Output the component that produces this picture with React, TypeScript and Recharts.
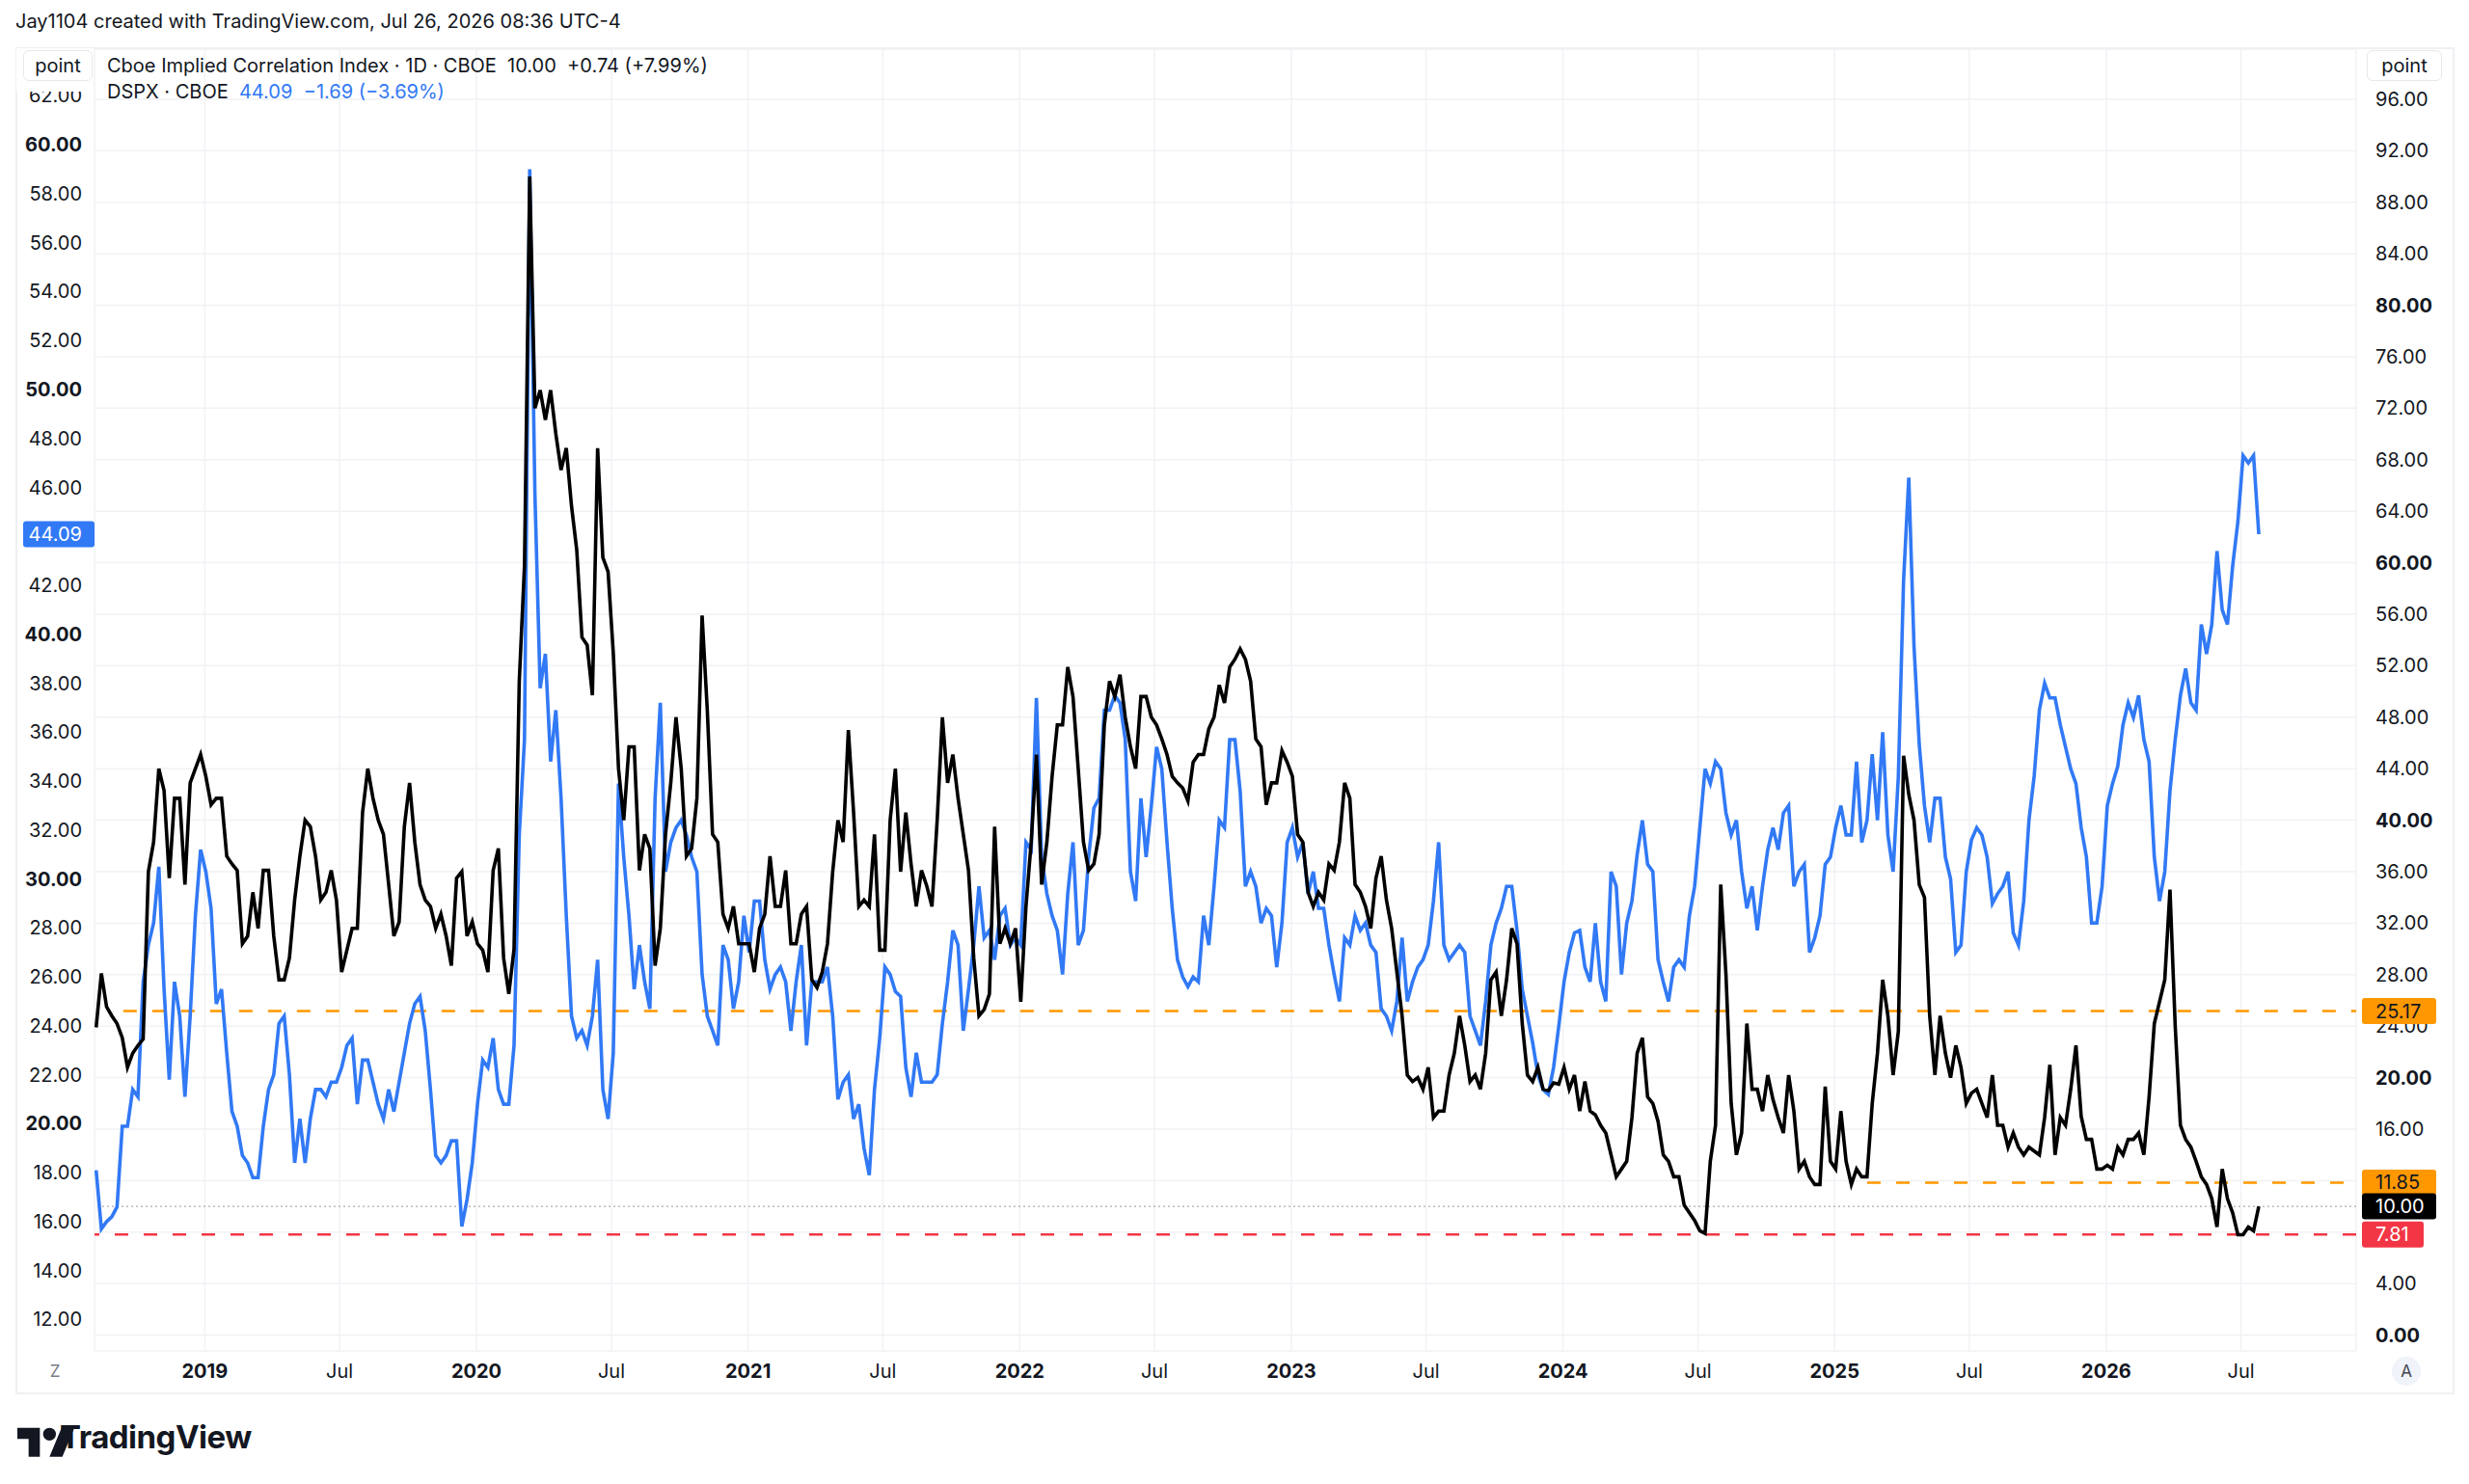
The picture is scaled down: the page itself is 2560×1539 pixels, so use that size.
import React from 'react';
import { LineChart, Line, XAxis, YAxis, CartesianGrid, ReferenceLine } from 'recharts';

// weekly samples, first one ~ Aug 2018
const START = 2018.6;
const STEP = 1 / 52;

// Cboe Implied Correlation Index (right scale)
const cor = [
  23.9, 28.1, 25.5, 24.8, 24.2, 23.1, 20.8, 21.9, 22.5, 23,
  36, 38.3, 44, 42.3, 35.5, 41.7, 41.7, 35, 42.9, 44,
  45.1, 43.4, 41.2, 41.7, 41.7, 37.2, 36.6, 36.1, 30.4, 31,
  34.4, 31.6, 36.1, 36.1, 31, 27.6, 27.6, 29.3, 33.8, 37.2,
  40, 39.5, 37.2, 33.8, 34.4, 36.1, 33.8, 28.2, 29.9, 31.6,
  31.6, 40.6, 44, 41.7, 40, 38.9, 35, 31, 32.1, 39.5,
  42.9, 38.3, 35, 33.8, 33.3, 31.6, 32.7, 31, 28.7, 35.5,
  36, 31, 32.1, 30.4, 29.9, 28.2, 36.1, 37.8, 29.3, 26.5,
  30, 50.8, 59.8, 90, 72, 73.4, 71.1, 73.4, 70, 67.2,
  68.9, 64.4, 61, 54.2, 53.6, 49.7, 68.9, 60.4, 59.3, 53,
  44, 40, 45.7, 45.7, 36.1, 38.9, 37.8, 28.7, 31.6, 38.9,
  42.9, 48, 44, 37.2, 37.8, 41.7, 55.9, 48.5, 38.9, 38.3,
  32.7, 31.6, 33.3, 30.4, 30.4, 30.4, 28.2, 31.6, 32.7, 37.2,
  33.3, 33.3, 36.1, 30.4, 30.4, 32.7, 33.3, 27.6, 27, 28.2,
  30.4, 36, 40, 38.3, 47, 40.6, 33.3, 33.8, 33.3, 38.9,
  29.9, 29.9, 40, 44, 36, 40.6, 36.6, 33.3, 36.1, 34.9,
  33.3, 40, 48, 42.9, 45.1, 41.7, 38.9, 36.1, 29.3, 24.8,
  25.3, 26.5, 39.5, 30.4, 31.6, 30.4, 31.6, 25.9, 33.3, 38.3,
  45.1, 35, 38.3, 43.4, 47.4, 47.4, 51.9, 49.6, 44, 38.3,
  36.1, 36.6, 38.9, 47.4, 50.8, 49.6, 51.3, 48, 45.7, 44,
  49.6, 49.6, 48, 47.4, 46.3, 45.1, 43.4, 42.9, 42.5, 41.5,
  44.5, 45.1, 45.1, 47.1, 48, 50.5, 49.1, 51.9, 52.5, 53.3,
  52.5, 50.8, 46.3, 45.7, 41.2, 42.9, 42.9, 45.4, 44.5, 43.4,
  38.9, 38.3, 34.4, 33.3, 34.4, 33.8, 36.6, 36.1, 38.3, 42.9,
  41.7, 35, 34.4, 33.3, 31.6, 35.5, 37.2, 33.8, 31.6, 28.2,
  24.8, 20.2, 19.7, 20, 19.1, 20.8, 16.9, 17.4, 17.4, 20.2,
  21.9, 24.8, 22.5, 19.7, 20.2, 19.1, 21.9, 27.6, 28.2, 24.8,
  27.6, 31.6, 30.4, 24.2, 20.2, 19.7, 20.8, 19.1, 19, 19.6,
  19.5, 20.8, 19.1, 20.2, 17.4, 19.7, 17.4, 17.1, 16.3, 15.7,
  14, 12.3, 12.9, 13.5, 16.9, 21.9, 23.1, 18.5, 18, 16.6,
  14, 13.5, 12.3, 12.3, 10.1, 9.5, 8.9, 8.1, 7.9, 13.5,
  16.3, 35, 28, 18, 14, 15.7, 24.2, 19.1, 19.1, 17.4,
  20.2, 18.3, 16.9, 15.7, 20.2, 17.4, 12.9, 13.5, 12.3, 11.7,
  11.7, 19.3, 13.5, 12.9, 17.4, 13.5, 11.7, 12.9, 12.3, 12.3,
  18, 21.9, 27.6, 24.8, 20.2, 23.6, 45, 42, 40, 35,
  34, 24.8, 20.2, 24.8, 21.9, 20, 22.5, 20.8, 18, 18.8,
  19.1, 18, 16.9, 20.2, 16.3, 16.3, 14.6, 15.7, 14.6, 14,
  14.6, 14.3, 14, 16.9, 21, 14, 16.9, 16.3, 19.1, 22.5,
  17, 15.2, 15.2, 12.9, 12.9, 13.2, 12.9, 14.6, 14, 15.2,
  15.2, 15.7, 14, 18.5, 24.2, 25.9, 27.6, 34.6, 24, 16.3,
  15.2, 14.6, 13.5, 12.3, 11.7, 10.6, 8.4, 12.9, 10.6, 9.5,
  7.8, 7.8, 8.4, 8.1, 10,
];

// DSPX (left scale)
const dspx = [
  18.1, 15.7, 16, 16.2, 16.6, 19.9, 19.9, 21.4, 21.1, 25.8,
  27.3, 28.2, 30.5, 25.5, 21.8, 25.8, 24.4, 21.1, 24.4, 28.5,
  31.2, 30.3, 28.8, 24.9, 25.5, 22.9, 20.5, 19.9, 18.7, 18.4,
  17.8, 17.8, 19.9, 21.4, 22, 24.1, 24.4, 22, 18.4, 20.2,
  18.4, 20.2, 21.4, 21.4, 21.1, 21.7, 21.7, 22.3, 23.2, 23.5,
  20.8, 22.6, 22.6, 21.7, 20.8, 20.2, 21.4, 20.5, 21.7, 22.9,
  24.1, 24.9, 25.2, 23.8, 21.4, 18.7, 18.4, 18.7, 19.3, 19.3,
  15.8, 16.9, 18.4, 20.8, 22.6, 22.3, 23.5, 21.4, 20.8, 20.8,
  23.2, 31.8, 35.7, 59, 45.7, 37.8, 39.2, 34.8, 36.9, 33.3,
  28.5, 24.4, 23.5, 23.8, 23.2, 24.4, 26.7, 21.4, 20.2, 22.9,
  33.9, 30.9, 28.5, 25.5, 27.3, 25.8, 24.7, 33.3, 37.2, 30.3,
  31.5, 32.1, 32.4, 31.8, 30.9, 30.3, 26.1, 24.4, 23.8, 23.2,
  27.3, 26.7, 24.7, 25.8, 28.5, 27, 29.1, 29.1, 26.7, 25.5,
  26.1, 26.4, 25.8, 23.8, 25.8, 27.3, 23.2, 25.8, 25.8, 25.8,
  26.4, 24.4, 21, 21.7, 22, 20.2, 20.8, 19, 17.9, 21.4,
  23.5, 26.4, 26.1, 25.4, 25.2, 22.3, 21.1, 22.9, 21.7, 21.7,
  21.7, 22, 24.1, 25.8, 27.9, 27.3, 23.8, 25.5, 27.3, 29.7,
  27.6, 27.9, 26.7, 28.5, 28.8, 27.3, 27.6, 27.3, 31.5, 31.2,
  37.4, 30.9, 29.4, 28.5, 27.9, 26.1, 29.4, 31.5, 27.3, 27.9,
  30.9, 32.9, 33.3, 36.9, 36.9, 37.5, 37.2, 35.7, 30.3, 29.1,
  33.3, 30.9, 33, 35.4, 34.5, 31.5, 28.8, 26.7, 26, 25.6,
  26, 25.8, 28.5, 27.3, 29.7, 32.4, 32.1, 35.7, 35.7, 33.6,
  29.7, 30.3, 29.7, 28.2, 28.8, 28.5, 26.4, 28.2, 31.5, 32.1,
  30.9, 31.5, 29.4, 30.3, 28.8, 28.8, 27.3, 26.1, 25, 27.6,
  27.3, 28.5, 27.9, 28.2, 27.3, 27, 24.7, 24.4, 23.8, 25,
  27.6, 25, 25.8, 26.4, 26.7, 27.3, 29.1, 31.5, 27.3, 26.7,
  27, 27.3, 27, 24.4, 23.8, 23.2, 25, 27.3, 28.2, 28.8,
  29.7, 29.7, 27.9, 25.5, 24.4, 23.3, 22, 21.4, 21.2, 22.3,
  24, 25.8, 27, 27.8, 27.9, 26.4, 25.8, 28.2, 25.8, 25,
  30.3, 29.7, 26.1, 28.2, 29.1, 31, 32.4, 30.6, 30.3, 26.7,
  25.8, 25, 26.4, 26.7, 26.4, 28.5, 29.7, 32.1, 34.5, 33.9,
  34.8, 34.5, 32.7, 31.8, 32.4, 30.3, 28.8, 29.7, 27.9, 29.7,
  31.2, 32.1, 31.2, 32.7, 33, 29.7, 30.3, 30.6, 27, 27.6,
  28.5, 30.6, 30.9, 32.1, 33, 31.8, 31.8, 34.8, 31.5, 32.4,
  35.1, 32.4, 36, 31.8, 30.3, 34.2, 42.2, 46.4, 39.5, 35.5,
  33, 31.5, 33.3, 33.3, 30.9, 30, 27, 27.3, 30.3, 31.6,
  32.1, 31.8, 30.9, 29, 29.4, 29.7, 30.3, 27.8, 27.3, 29.1,
  32.4, 34.2, 36.9, 38, 37.4, 37.4, 36.3, 35.4, 34.5, 33.9,
  32.1, 30.9, 28.2, 28.2, 29.7, 33, 33.9, 34.6, 36.3, 37.2,
  36.6, 37.5, 35.7, 34.8, 30.9, 29.1, 30.3, 33.6, 35.7, 37.5,
  38.6, 37.2, 36.9, 40.4, 39.2, 40.4, 43.4, 41, 40.4, 42.8,
  44.6, 47.3, 47, 47.3, 44.09,
];

const xTickValues = [
  2019, 2019.496, 2020, 2020.497, 2021, 2021.496, 2022, 2022.496,
  2023, 2023.496, 2024, 2024.497, 2025, 2025.496, 2026, 2026.496,
];
const xTickLabels = [
  '2019', 'Jul', '2020', 'Jul', '2021', 'Jul', '2022', 'Jul',
  '2023', 'Jul', '2024', 'Jul', '2025', 'Jul', '2026', 'Jul',
];
const leftTicks = [12, 14, 16, 18, 20, 22, 24, 26, 28, 30, 32, 34, 36, 38, 40, 42, 44, 46, 48, 50, 52, 54, 56, 58, 60, 62];
const leftBold = [20, 30, 40, 50, 60];
const rightTicks = [0, 4, 8, 12, 16, 20, 24, 28, 32, 36, 40, 44, 48, 52, 56, 60, 64, 68, 72, 76, 80, 84, 88, 92, 96];
const rightBold = [0, 20, 40, 60, 80];

const data = cor.map((c, i) => ({ t: START + i * STEP, cor: c, dspx: dspx[i] }));

const FONT = 'Inter, "Noto Sans", sans-serif';
const INK = '#131722';
const BLUE = '#3179f5';
const ORANGE = '#ff9800';
const RED = '#f23645';

const X_DOMAIN: [number, number] = [2018.594, 2026.92];
const L_DOMAIN: [number, number] = [10.717, 63.909];
const R_DOMAIN: [number, number] = [-1.228, 99.89];
const MARGIN = { top: 51, right: 0, bottom: 0, left: 0 };

const LeftTick = (props: any) => {
  const { y, payload } = props;
  const bold = leftBold.includes(payload.value);
  return (
    <text x={85} y={y} dy={7} textAnchor="end" fontSize={20} fontFamily={FONT}
      fontWeight={bold ? 700 : 400} fill={INK}>
      {payload.value.toFixed(2)}
    </text>
  );
};

const RightTick = (props: any) => {
  const { y, payload } = props;
  const bold = rightBold.includes(payload.value);
  return (
    <text x={2463} y={y} dy={7} textAnchor="start" fontSize={20} fontFamily={FONT}
      fontWeight={bold ? 700 : 400} fill={INK}>
      {payload.value.toFixed(2)}
    </text>
  );
};

const XTick = (props: any) => {
  const { x, payload } = props;
  const label = xTickLabels[xTickValues.indexOf(payload.value)];
  return (
    <text x={x} y={1429} textAnchor="middle" fontSize={20} fontFamily={FONT}
      fontWeight={label === 'Jul' ? 400 : 700} fill={INK}>
      {label}
    </text>
  );
};

const NoTick = () => null;

// price tag drawn at the height the scale gives the reference line
const tag = (text: string, fill: string, color: string, width: number, side: 'left' | 'right' = 'right') =>
  (props: any) => {
    const vb = props.viewBox || {};
    const y = vb.y ?? 0;
    const x0 = side === 'right' ? 2449 : 24;
    return (
      <g>
        <rect x={x0} y={y - 13.5} width={width} height={27} rx={3} fill={fill} />
        <text x={side === 'right' ? 2463 : 85} y={y} dy={7} fontSize={20} fontFamily={FONT}
          textAnchor={side === 'right' ? 'start' : 'end'} fill={color}>
          {text}
        </text>
      </g>
    );
  };

const TvLogo = () => (
  <svg width={60} height={40} viewBox="0 0 36 24" style={{ position: 'absolute', left: 18, top: 1474 }}>
    <path d="M14 22H7V11H0V4h14v18zM28 22h-8l7.5-18h8L28 22z" fill={INK} />
    <circle cx={20} cy={8} r={4} fill={INK} />
  </svg>
);

// the same axes for both passes so the scales match
const axes = (withTicks: boolean) => [
  <XAxis key="x" dataKey="t" type="number" domain={X_DOMAIN} allowDataOverflow
    ticks={xTickValues} interval={0} height={138} axisLine={false} tickLine={false}
    tick={withTicks ? <XTick /> : <NoTick />} />,
  <YAxis key="l" yAxisId="left" orientation="left" type="number" domain={L_DOMAIN} allowDataOverflow
    ticks={leftTicks} interval={0} width={98} axisLine={false} tickLine={false}
    tick={withTicks ? <LeftTick /> : <NoTick />} />,
  <YAxis key="r" yAxisId="right" orientation="right" type="number" domain={R_DOMAIN} allowDataOverflow
    ticks={rightTicks} interval={0} width={117} axisLine={false} tickLine={false}
    tick={withTicks ? <RightTick /> : <NoTick />} />,
];

export default function App() {
  return (
    <div style={{ position: 'absolute', left: 0, top: 0, width: 2560, height: 1539, background: '#fff', fontFamily: FONT, color: INK }}>
      <div style={{ position: 'absolute', left: 16, top: 10, fontSize: 20, whiteSpace: 'nowrap' }}>
        Jay1104 created with TradingView.com, Jul 26, 2026 08:36 UTC-4
      </div>
      <div style={{ position: 'absolute', left: 16, top: 49, width: 2525, height: 1393, border: '2px solid #eef0f3' }} />

      <div style={{ position: 'absolute', left: 0, top: 0 }}>
        <LineChart width={2560} height={1539} data={data} margin={MARGIN}>
          <CartesianGrid yAxisId="right" stroke="#f0f2f5" strokeWidth={1.5} />
          {axes(true)}

          <ReferenceLine yAxisId="right" segment={[{ x: 2018.7, y: 25.17 }, { x: 2026.92, y: 25.17 }]}
            stroke={ORANGE} strokeWidth={2.5} strokeDasharray="14 16" ifOverflow="visible" />
          <ReferenceLine yAxisId="right" segment={[{ x: 2025.12, y: 11.85 }, { x: 2026.92, y: 11.85 }]}
            stroke={ORANGE} strokeWidth={2.5} strokeDasharray="14 16" ifOverflow="visible" />
          <ReferenceLine yAxisId="right" y={7.81} stroke={RED} strokeWidth={2.5} strokeDasharray="14 16" />
          <ReferenceLine yAxisId="right" y={10} stroke="#9598a1" strokeWidth={1} strokeDasharray="2 3" />

          <Line yAxisId="left" dataKey="dspx" type="linear" stroke={BLUE} strokeWidth={3.6}
            dot={false} activeDot={false} isAnimationActive={false} />
          <Line yAxisId="right" dataKey="cor" type="linear" stroke="#000" strokeWidth={3.6}
            dot={false} activeDot={false} isAnimationActive={false} />
        </LineChart>
      </div>

      {/* second pass with the same scales: price tags above the axis labels */}
      <div style={{ position: 'absolute', left: 0, top: 0 }}>
        <LineChart width={2560} height={1539} data={data} margin={MARGIN}>
          {axes(false)}
          <ReferenceLine yAxisId="right" y={25.17} stroke="none" label={tag('25.17', ORANGE, INK, 77)} />
          <ReferenceLine yAxisId="right" y={11.85} stroke="none" label={tag('11.85', ORANGE, INK, 77)} />
          <ReferenceLine yAxisId="right" y={10} stroke="none" label={tag('10.00', '#000', '#fff', 77)} />
          <ReferenceLine yAxisId="right" y={7.81} stroke="none" label={tag('7.81', RED, '#fff', 64)} />
          <ReferenceLine yAxisId="left" y={44.09} stroke="none" label={tag('44.09', BLUE, '#fff', 74, 'left')} />
          <Line yAxisId="left" dataKey="dspx" stroke="none" dot={false} activeDot={false} isAnimationActive={false} />
          <Line yAxisId="right" dataKey="cor" stroke="none" dot={false} activeDot={false} isAnimationActive={false} />
        </LineChart>
      </div>

      {/* legend and scale badges */}
      <div style={{ position: 'absolute', left: 17, top: 50, width: 80, height: 45, background: '#fff' }} />
      <div style={{ position: 'absolute', left: 24, top: 52, width: 70, height: 30, border: '1px solid #e6e8ec', borderRadius: 6, background: '#fff', fontSize: 20, lineHeight: '30px', textAlign: 'center' }}>point</div>
      <div style={{ position: 'absolute', left: 2454, top: 52, width: 76, height: 30, border: '1px solid #e6e8ec', borderRadius: 6, background: '#fff', fontSize: 20, lineHeight: '30px', textAlign: 'center' }}>point</div>
      <div style={{ position: 'absolute', left: 111, top: 56, fontSize: 20, whiteSpace: 'pre' }}>
        Cboe Implied Correlation Index · 1D · CBOE  10.00  +0.74 (+7.99%)
      </div>
      <div style={{ position: 'absolute', left: 111, top: 83, fontSize: 20, whiteSpace: 'pre' }}>
        DSPX · CBOE  <span style={{ color: BLUE }}>44.09  −1.69 (−3.69%)</span>
      </div>

      <div style={{ position: 'absolute', left: 44, top: 1409, width: 26, height: 26, borderRadius: 13, fontSize: 17, lineHeight: '26px', textAlign: 'center', color: '#787b86' }}>Z</div>
      <div style={{ position: 'absolute', left: 2480, top: 1407, width: 30, height: 30, borderRadius: 15, background: '#f0f3fa', fontSize: 17, lineHeight: '30px', textAlign: 'center', color: '#434651' }}>A</div>

      <TvLogo />
      <div style={{ position: 'absolute', left: 62, top: 1470, fontSize: 33, fontWeight: 700, letterSpacing: -0.5 }}>TradingView</div>
    </div>
  );
}
